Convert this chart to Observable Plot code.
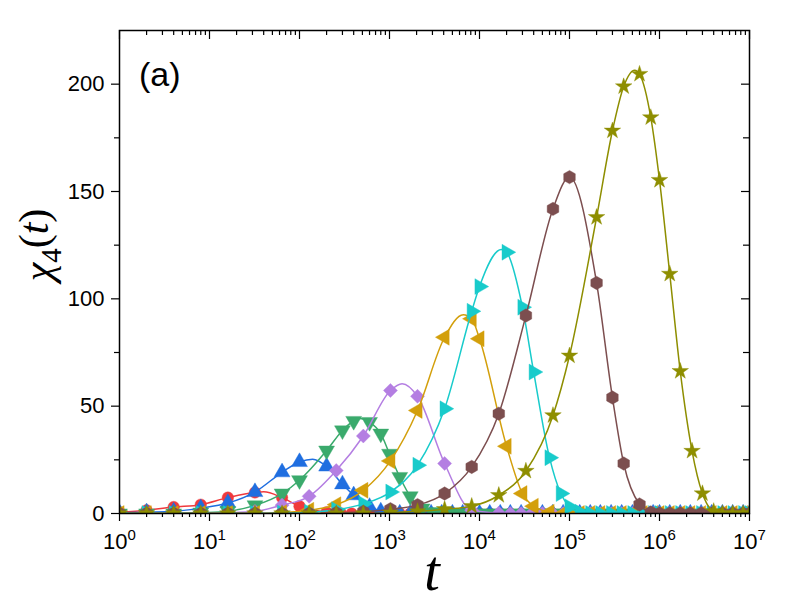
<!DOCTYPE html>
<html><head><meta charset="utf-8">
<script src="https://cdn.jsdelivr.net/npm/d3@7"></script>
<script src="https://cdn.jsdelivr.net/npm/@observablehq/plot@0.6"></script>
<style>body{margin:0;background:#fff;} svg{display:block;}</style>
</head><body><div id="chart"></div>
<script>
// ---------- data ----------
const majorX = [1, 10, 100, 1000, 10000, 100000, 1000000, 10000000];
const minorMant = [2, 3, 4, 5, 6, 7, 8, 9];
const majorY = [0, 50, 100, 150, 200];
const minorY = [25, 75, 125, 175];

// early baseline sampling times (powers of two) and late baseline sampling times
const powT = [1,2,4,8,16,32,64,128,256,512,1024,2048,4096,8192,16384,32768,65536];
const tailT = [1e2,1.3e2,1.7e2,2.2e2,2.9e2,3.8e2,5e2,6.5e2,8.5e2,
  1e3,1.3e3,1.7e3,2.2e3,2.9e3,3.8e3,5e3,6.5e3,8.5e3,
  1e4,1.3e4,1.7e4,2.2e4,2.9e4,3.8e4,5e4,6.5e4,8.5e4,
  1e5,1.3e5,1.7e5,2.2e5,2.9e5,3.8e5,5e5,6.5e5,8.5e5,
  1e6,1.3e6,1.7e6,2.2e6,2.9e6,3.8e6,5e6,6.5e6,8.5e6,1e7];

const tRed = [1,2,4,8,16,32,64,100,200];
const vRed = [0.6,1.5,3.0,4.1,7.4,9.8,7.4,3.4,0.6];
const tBlue = [1,2,4,8,16,32,64,100,200,300,400,600,800];
const vBlue = [0.3,0.6,1.0,2.5,4.9,10.0,19.2,24.0,21.9,13.6,8.5,3.1,1.0];
const tGreen = [8,16,32,64,100,200,300,400,600,800,1000,1300,1700,2300,3000];
const vGreen = [0.4,1.1,3.8,9.3,15.5,29.3,38.7,43.1,42.6,37.2,27.8,17.0,8.0,2.3,0.6];
const tPurple = [16,32,64,128,256,512,1024,2048,4096,8192,16384];
const vPurple = [0.3,1.0,3.9,8.0,20.0,36.1,57.3,54.6,23.3,1.5,0.2];
const tGold = [64,128,256,512,1024,2048,4096,8192,10000,20000,30000,40000,60000];
const vGold = [0.4,1.5,4.1,10.8,24.5,48.0,82.1,90.7,81.4,31.3,9.3,3.4,0.6];
const tCyan = [64,128,256,512,1024,2048,4096,8192,10000,20000,30000,40000,60000,80000,100000,130000];
const vCyan = [0.2,0.6,1.8,4.5,10.0,22.5,48.8,94.2,105.7,121.7,96.1,65.9,26.0,9.3,3.1,0.6];
const tBrown = [256,512,1024,2048,4096,8192,16384,32768,65536,1e5,2e5,3e5,4e5,6e5,8e5];
const vBrown = [0.3,0.8,2.0,3.9,9.3,21.7,46.5,92.2,141.9,156.7,107.4,54.0,23.3,4.2,0.5];
const tOlive = [1024,2048,4096,8192,16384,32768,65536,1e5,2e5,3e5,4e5,6e5,8e5,1e6,1.3e6,1.7e6,2.3e6,3e6,4e6];
const vOlive = [0.4,1.0,2.0,3.4,8.5,19.8,45.7,73.5,138.0,178.3,198.9,204.7,184.5,155.3,111.6,66.3,29.1,9.3,1.0];

// curve maxima between markers (line only)
const peakT = [40, 140, 470, 1380, 6600, 17500, null, 530000];
const peakV = [10.1, 25.3, 44.2, 60.5, 92.6, 123.0, null, 206.5];

const colors = ["#f0393c","#1f6ee0","#3aaa6c","#b47ee2","#d39f0b","#18cbcb","#7c4e4f","#8e8e00"];

// ---------- symbols ----------
const S3 = Math.sqrt(3);
function tri(dir){ // dir: 0 up, 1 right, 2 down, 3 left
  return {draw(ctx, size){
    const a = Math.sqrt(size*4/S3), R = a/S3;
    let pts = [[0,-R],[a/2,R/2],[-a/2,R/2]];
    pts = pts.map(([x,y]) => dir===0?[x,y]:dir===1?[-y,x]:dir===2?[x,-y]:[y,x]);
    ctx.moveTo(pts[0][0],pts[0][1]); ctx.lineTo(pts[1][0],pts[1][1]); ctx.lineTo(pts[2][0],pts[2][1]); ctx.closePath();
  }};
}
const diamondSym = {draw(ctx,size){const h=Math.sqrt(size/2); ctx.moveTo(0,-h);ctx.lineTo(h,0);ctx.lineTo(0,h);ctx.lineTo(-h,0);ctx.closePath();}};
const hexSym = {draw(ctx,size){const R=Math.sqrt(size/(1.5*S3)); for(let k=0;k<6;k++){const a=Math.PI/3*k - Math.PI/2; const x=R*Math.cos(a), y=R*Math.sin(a); k?ctx.lineTo(x,y):ctx.moveTo(x,y);} ctx.closePath();}};
const symbols = ["circle", tri(0), tri(2), diamondSym, tri(3), tri(1), hexSym, "star"];
const radii = [5.8, 5.9, 5.9, 5.6, 5.9, 5.9, 6.1, 5.2];

const tVals = [tRed,tBlue,tGreen,tPurple,tGold,tCyan,tBrown,tOlive];
const vVals = [vRed,vBlue,vGreen,vPurple,vGold,vCyan,vBrown,vOlive];

function buildSeries(i){
  const t = tVals[i], v = vVals[i];
  const t0 = t[0], t1 = t[t.length-1];
  const hump = t.map((tt,j)=>({t:tt, v:v[j]}));
  const early = powT.filter(x => x < t0/1.3).map(x=>({t:x, v:0}));
  const late = tailT.filter(x => x > t1*1.2).map(x=>({t:x, v:0}));
  const markers = [...early, ...hump, ...late];
  const line = markers.concat(peakT[i]!=null ? [{t:peakT[i], v:peakV[i]}] : []).sort((a,b)=>a.t-b.t);
  return {markers, line};
}

const W = 789, H = 604, mL = 119, mR = 40, mT = 30, mB = 91;
const fW = W - mL - mR, fH = H - mT - mB;
const minorX = [];
majorX.slice(0,-1).forEach(m => minorMant.forEach(k => minorX.push(m*k)));

const marks = [];
tVals.forEach((_, i) => {
  const s = buildSeries(i);
  marks.push(Plot.line(s.line, {x:"t", y:"v", stroke:colors[i], strokeWidth:1.5, curve:"monotone-x", clip:true}));
  marks.push(Plot.dot(s.markers, {x:"t", y:"v", fill:colors[i], stroke:colors[i], strokeWidth:0.4, symbol:symbols[i], r:radii[i], clip:true}));
});

const tickStyle = {stroke:"black", strokeWidth:1.2};
marks.push(
  Plot.frame({stroke:"black", strokeWidth:1.5}),
  Plot.axisX({anchor:"bottom", ticks:majorX, tickSize:8, tickPadding:12, fontSize:22, label:null, strokeWidth:1.2,
    tickFormat: d => "10^" + Math.round(Math.log10(d))}),
  Plot.axisX({anchor:"bottom", ticks:minorX, tickSize:4, tickFormat:() => "", label:null, strokeWidth:1.2}),
  Plot.axisY({anchor:"left", ticks:majorY, tickSize:8, tickPadding:7, fontSize:22, label:null, strokeWidth:1.2}),
  Plot.axisY({anchor:"left", ticks:minorY, tickSize:5, tickFormat:() => "", label:null, strokeWidth:1.2}),
  Plot.tickX(majorX, {x:d=>d, insetBottom: fH - 9, ...tickStyle}),
  Plot.tickX(minorX, {x:d=>d, insetBottom: fH - 5, ...tickStyle}),
  Plot.tickY(majorY, {y:d=>d, insetLeft: fW - 8, ...tickStyle}),
  Plot.tickY(minorY, {y:d=>d, insetLeft: fW - 6, ...tickStyle})
);

const svg = Plot.plot({
  width: W, height: H,
  marginLeft: mL, marginRight: mR, marginTop: mT, marginBottom: mB,
  x: {type:"log", domain:[1, 1e7]},
  y: {domain:[0, 225]},
  style: {fontFamily:"'Liberation Sans', Arial, sans-serif", fontSize:"22px", color:"black", background:"white"},
  marks
});

// superscripts for the x tick labels
d3.select(svg).selectAll('g[aria-label="x-axis tick label"] text').each(function(){
  const s = this.textContent;
  if (!s || s.indexOf("^") < 0) return;
  const e = s.split("^")[1];
  this.textContent = "";
  const sel = d3.select(this);
  sel.append("tspan").text("10");
  sel.append("tspan").attr("dy","-0.6em").attr("font-size","15px").text(e);
});

const g = d3.select(svg).append("g").attr("fill","black");
// panel label
g.append("text").attr("x",139).attr("y",86).attr("text-anchor","start")
  .attr("font-family","'Liberation Sans', Arial, sans-serif").attr("font-size",34).text("(a)");
// x label
g.append("text").attr("x",432).attr("y",590).attr("text-anchor","middle")
  .attr("font-family","'Liberation Serif', 'DejaVu Serif', serif").attr("font-style","italic").attr("font-size",56).text("t");
// y label
const yl = g.append("text").attr("transform","translate(52,245) rotate(-90)").attr("text-anchor","middle")
  .attr("font-family","'Liberation Serif', 'DejaVu Serif', serif").attr("font-size",42);
yl.append("tspan").attr("font-style","italic").text("χ");
yl.append("tspan").attr("font-size",29).attr("dy","0.3em").text("4");
yl.append("tspan").attr("dy","-0.3em").text("(");
yl.append("tspan").attr("font-style","italic").text("t");
yl.append("tspan").text(")");

document.getElementById("chart").appendChild(svg);
</script>
</body></html>
